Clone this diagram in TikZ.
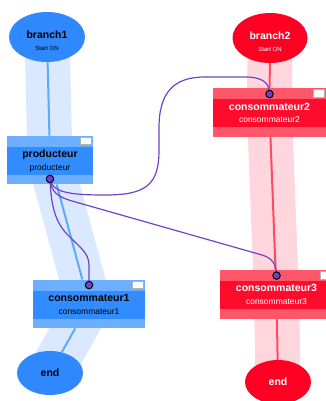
\documentclass[tikz,border=0pt]{standalone}
\usepackage{fontspec}
\setmainfont{Liberation Sans}
\usetikzlibrary{shapes.geometric}

% drawing order: wide lanes, thin flow lines, nodes, wires, ports
\pgfdeclarelayer{lanes}
\pgfdeclarelayer{flow}
\pgfdeclarelayer{wires}
\pgfdeclarelayer{ports}
\pgfsetlayers{lanes,flow,main,wires,ports}

\definecolor{blueEll}{RGB}{48,136,255}
\definecolor{blueMid}{RGB}{48,140,255}
\definecolor{blueLight}{RGB}{108,174,255}
\definecolor{blueLane}{RGB}{218,233,255}
\definecolor{blueFlow}{RGB}{92,170,255}
\definecolor{redEll}{RGB}{255,0,34}
\definecolor{redMid}{RGB}{255,12,44}
\definecolor{redLight}{RGB}{255,86,106}
\definecolor{redLane}{RGB}{255,214,221}
\definecolor{redFlow}{RGB}{255,72,98}
\definecolor{wireCol}{RGB}{112,66,200}

\begin{document}
\begin{tikzpicture}[x=1pt,y=-1pt,
  ell/.style={ellipse, inner sep=0pt},
  flowbox/.style 2 args={rectangle, inner sep=0pt, minimum height=48.5pt, fill=#2,
    path picture={
      \fill[#1] ([yshift=-11pt]path picture bounding box.north west)
        rectangle ([yshift=9.5pt]path picture bounding box.south east);
      \draw[gray!60, fill=white, line width=0.8pt]
        ([shift={(-12.5pt,-1.5pt)}]path picture bounding box.north east)
        rectangle ++(11pt,-7.5pt);
    }},
  bluebox/.style={flowbox={blueMid}{blueLight}},
  redbox/.style={flowbox={redMid}{redLight}},
  ttl/.style={font=\bfseries\fontsize{10.5}{12}\selectfont, inner sep=0pt, text height=7.5pt, text depth=0pt},
  sub/.style={font=\fontsize{8.5}{10}\selectfont, inner sep=0pt, text height=6pt, text depth=0pt},
  tiny/.style={font=\fontsize{6}{7}\selectfont, inner sep=0pt, text height=4.5pt, text depth=0pt},
  bluelane/.style={draw=blueLane, line width=45pt},
  redlane/.style={draw=redLane, line width=45pt},
  blueflowline/.style={draw=blueFlow, line width=2pt},
  redflowline/.style={draw=redFlow, line width=2pt},
  wire/.style={draw=wireCol, line width=1.2pt},
  port/.style={circle, inner sep=0pt, minimum size=7.5pt, fill=wireCol, draw=black, line width=1pt}
]
\useasboundingbox (0,0) rectangle (326,401);
\clip (0,0) rectangle (326,401);

% ---- blue branch ----
\node[ell, fill=blueEll, minimum width=76pt, minimum height=50pt] (b1) at (47,37) {};
\node[ttl] (b1t) at (47,35) {branch1};
\node[tiny] (b1s) at (47,48) {Start ON};

\node[bluebox, minimum width=86pt] (prod) at (50,160) {};
\node[ttl] (prodt) at (50,154) {producteur};
\node[sub] (prods) at (50,167) {producteur};

\node[bluebox, minimum width=112pt] (c1) at (89,304) {};
\node[ttl] (c1t) at (89,298) {consommateur1};
\node[sub] (c1s) at (89,311) {consommateur1};

\node[ell, fill=blueEll, minimum width=66pt, minimum height=44pt] (e1) at (50,373) {};
\node[ttl] (e1t) at (50,373) {end};

% ---- red branch ----
\node[ell, fill=redEll, minimum width=75pt, minimum height=50pt] (b2) at (270,38) {};
\node[ttl, text=white] (b2t) at (270,36) {branch2};
\node[tiny, text=white] (b2s) at (270,49) {Start ON};

\node[redbox, minimum width=113pt] (c2) at (269.5,112.5) {};
\node[ttl, text=white] (c2t) at (269.5,106.5) {consommateur2};
\node[sub, text=white] (c2s) at (269.5,119) {consommateur2};

\node[redbox, minimum width=113pt] (c3) at (276.5,294.5) {};
\node[ttl, text=white] (c3t) at (276.5,288) {consommateur3};
\node[sub, text=white] (c3s) at (276.5,301.5) {consommateur3};

\node[ell, fill=redEll, minimum width=66pt, minimum height=44pt] (e2) at (278,382) {};
\node[ttl, text=white] (e2t) at (278,382) {end};

% ---- lanes and flow lines ----
\begin{pgfonlayer}{lanes}
  \draw[bluelane] (b1.center) -- (prod.center) -- (c1.center) -- (e1.center);
  \draw[redlane] (b2.center) -- (c2.center) -- (c3.center) -- (e2.center);
\end{pgfonlayer}
\begin{pgfonlayer}{flow}
  \draw[blueflowline] (b1) -- (prod);
  \draw[blueflowline] (prod) -- (c1);
  \draw[blueflowline] (c1) -- (e1);
  \draw[redflowline] (b2) -- (c2);
  \draw[redflowline] (c2) -- (c3);
  \draw[redflowline] (c3) -- (e2);
\end{pgfonlayer}

% ---- ports ----
\begin{pgfonlayer}{ports}
  \node[port] (pd) at ([yshift=5.5pt]prod.south) {};
  \node[port] (c1d) at ([yshift=-5.5pt]c1.north) {};
  \node[port] (c2d) at ([yshift=-6pt]c2.north) {};
  \node[port] (c3d) at ([yshift=-5.5pt]c3.north) {};
\end{pgfonlayer}

% ---- wires between ports ----
\begin{pgfonlayer}{wires}
  \draw[wire] (pd.center) .. controls (52,192) and (68,195) .. (105,195)
    .. controls (146,195) and (159,185) .. (159,150)
    -- (159,128) .. controls (159,92) and (174,77) .. (205,77)
    -- (245,77) .. controls (263,77) and (269.5,83) .. (c2d.center);
  \draw[wire] (pd.center) .. controls (51,192) and (58,197) .. (72,201)
    -- (262,255) .. controls (272,258) and (276.5,264) .. (c3d.center);
  \draw[wire] (pd.center) .. controls (51,205) and (55,220) .. (65,232)
    .. controls (78,246) and (89,252) .. (89,265) -- (c1d.center);
\end{pgfonlayer}
\end{tikzpicture}
\end{document}
